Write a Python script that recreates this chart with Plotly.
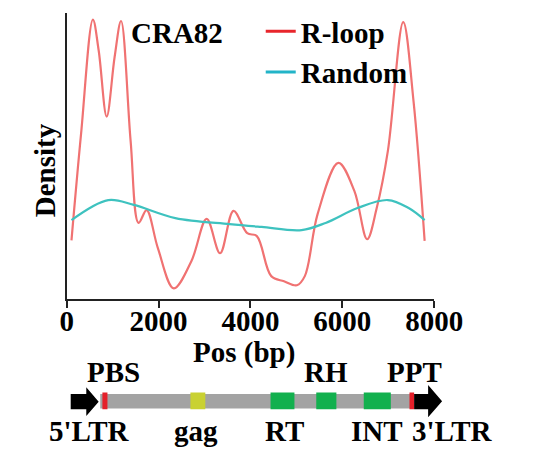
import plotly.graph_objects as go

# ---------------- data ----------------
rloop_pos = [104, 313, 570, 696, 870, 1043, 1183, 1391, 1565, 1739, 1983, 2330, 2713,
             3047, 3339, 3631, 3930, 4139, 4452, 4730, 5009, 5183, 5461, 5913, 6261,
             6539, 6748, 6991, 7325, 7548, 7791]
rloop_density = [0.205, 0.578, 0.977, 0.869, 0.638, 0.846, 0.972, 0.553, 0.266, 0.311,
                 0.179, 0.037, 0.132, 0.280, 0.160, 0.308, 0.230, 0.220, 0.080, 0.062,
                 0.048, 0.080, 0.297, 0.476, 0.378, 0.209, 0.318, 0.518, 0.968, 0.694, 0.203]

random_pos = [104, 904, 1461, 2365, 3548, 4243, 5113, 5635, 6330, 6991, 7443, 7791]
random_density = [0.276, 0.346, 0.329, 0.283, 0.262, 0.252, 0.241, 0.266, 0.318, 0.346,
                  0.318, 0.276]

x_ticks = [0, 2000, 4000, 6000, 8000]

# genome map features (bp)
ltr5_span = [87, 696]
ltr3_span = [7562, 8171]
body_span = [730, 7562]
domain_names = ["PBS", "gag", "RT", "RH", "INT", "PPT"]
domain_start = [777, 2693, 4437, 5432, 6466, 7461]
domain_end = [887, 3017, 4957, 5870, 7055, 7562]
domain_colors = ["#e4202a", "#c9d132", "#12b04e", "#12b04e", "#12b04e", "#e4202a"]
label_top = ["PBS", "RH", "PPT"]
label_top_pos = [1022, 5641, 7578]
label_bottom = ["5'LTR", "gag", "RT", "INT", "3'LTR"]
label_bottom_pos = [486, 2810, 4748, 6746, 8408]

# ---------------- figure ----------------
W, H = 536, 449
FONT = dict(family="Liberation Serif", size=29, color="black", weight="bold")

fig = go.Figure()
fig.add_trace(go.Scatter(x=rloop_pos, y=rloop_density, mode="lines", line_shape="spline",
                         line=dict(color="#f07272", width=2.2), showlegend=False))
fig.add_trace(go.Scatter(x=random_pos, y=random_density, mode="lines", line_shape="spline",
                         line=dict(color="#3ec2bf", width=2.2), showlegend=False))
# legend entries
fig.add_trace(go.Scatter(x=[None], y=[None], mode="lines", name="R-loop",
                         line=dict(color="#e8262c", width=3)))
fig.add_trace(go.Scatter(x=[None], y=[None], mode="lines", name="Random",
                         line=dict(color="#22b4c8", width=3)))
# invisible trace to create the map subplot
fig.add_trace(go.Scatter(x=[None], y=[None], xaxis="x2", yaxis="y2", showlegend=False))

k = 8000 / 394.0
x0px, x1px = 64, 458
fig.update_layout(
    width=W, height=H,
    margin=dict(l=0, r=0, t=0, b=0, pad=0),
    paper_bgcolor="white", plot_bgcolor="rgba(0,0,0,0)",
    font=FONT,
    xaxis=dict(domain=[x0px / W, x1px / W], range=[0, 8000], tickvals=x_ticks,
               showline=True, linecolor="#222", linewidth=2, ticks="outside",
               ticklen=7, tickwidth=2, tickcolor="#222", showgrid=False, zeroline=False,
               anchor="y", tickfont=FONT, ticklabelstandoff=-12),
    yaxis=dict(domain=[(H - 299) / H, (H - 13) / H], range=[0, 1], showline=True,
               linecolor="#222", linewidth=2, showticklabels=False, ticks="",
               showgrid=False, zeroline=False, anchor="x"),
    xaxis2=dict(domain=[0, 1], range=[-x0px * k, (W - x0px) * k], visible=False,
                anchor="y2"),
    yaxis2=dict(domain=[0, 0.3], range=[H, H - 0.3 * H], visible=False, anchor="x2"),
    legend=dict(x=272 / W, y=(H - 6) / H, xanchor="left", yanchor="top",
                bgcolor="rgba(0,0,0,0)", font=FONT, tracegroupgap=0),
)

ann = []
ann.append(dict(text="Density", x=41 / W, y=(H - 170) / H, xref="paper", yref="paper",
                textangle=-90, showarrow=False, xanchor="center", yanchor="middle"))
ann.append(dict(text="Pos (bp)", x=254 / W, y=(H - 352) / H, xref="paper", yref="paper",
                showarrow=False, xanchor="center", yanchor="middle"))
ann.append(dict(text="CRA82", x=182.7 / W, y=(H - 33) / H, xref="paper", yref="paper",
                showarrow=False, xanchor="center", yanchor="middle"))
for t, p in zip(label_top, label_top_pos):
    ann.append(dict(text=t, x=p, y=372, xref="x2", yref="y2", showarrow=False,
                    xanchor="center", yanchor="middle"))
for t, p in zip(label_bottom, label_bottom_pos):
    ann.append(dict(text=t, x=p, y=431, xref="x2", yref="y2", showarrow=False,
                    xanchor="center", yanchor="middle"))
fig.update_layout(annotations=ann)

shapes = []
# gray body
shapes.append(dict(type="rect", xref="x2", yref="y2", x0=body_span[0], x1=body_span[1],
                   y0=394, y1=408.5, fillcolor="#a3a3a3", line=dict(width=0)))
for s, e, c in zip(domain_start, domain_end, domain_colors):
    shapes.append(dict(type="rect", xref="x2", yref="y2", x0=s, x1=e, y0=392.5, y1=409.3,
                       fillcolor=c, line=dict(width=0)))


def arrow(span, y0, y1, hy0, hy1, frac):
    a, b = span
    m = a + (b - a) * frac
    yc = (hy0 + hy1) / 2
    return (f"M {a},{y0} L {m},{y0} L {m},{hy0} L {b},{yc} L {m},{hy1} "
            f"L {m},{y1} L {a},{y1} Z")


shapes.append(dict(type="path", xref="x2", yref="y2",
                   path=arrow(ltr5_span, 394, 409.3, 387.3, 416, 0.557),
                   fillcolor="black", line=dict(width=0)))
shapes.append(dict(type="path", xref="x2", yref="y2",
                   path=arrow(ltr3_span, 394, 409.3, 385, 417.3, 0.5),
                   fillcolor="black", line=dict(width=0)))
fig.update_layout(shapes=shapes)

fig.write_html("out.html")
